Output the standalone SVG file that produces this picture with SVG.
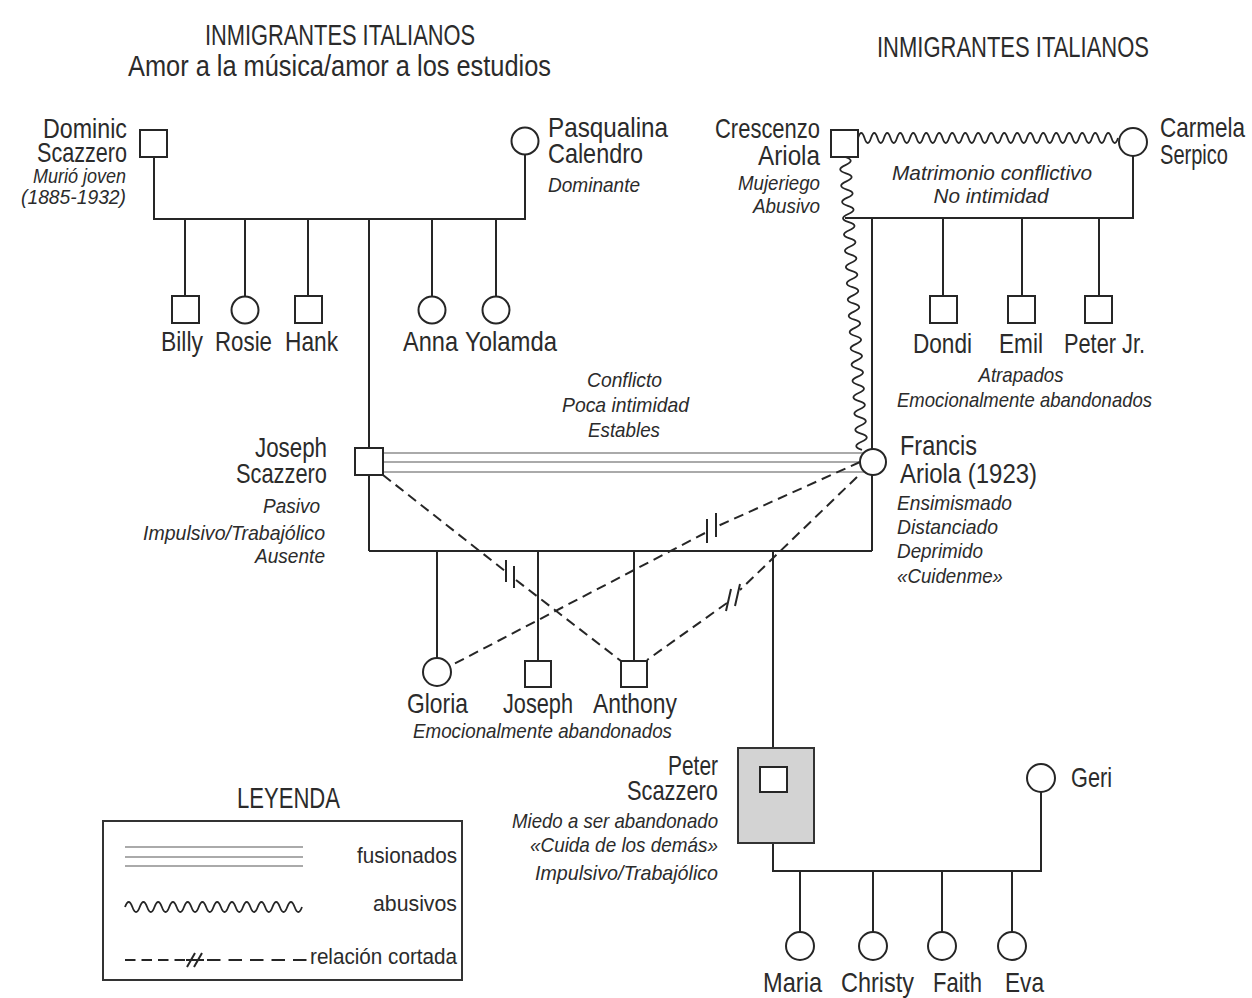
<svg xmlns="http://www.w3.org/2000/svg" width="1252" height="998" viewBox="0 0 1252 998">
<style>
text{font-family:"Liberation Sans Narrow","Liberation Sans",Arial,sans-serif;fill:#2b2b2b}
.t{font-size:30px}
.n{font-size:28px}
.i{font-size:21px;font-style:italic}
.l{font-size:22px}
.ln{stroke:#262626;stroke-width:2;fill:none}
.nd{stroke:#262626;stroke-width:2;fill:#fff}
.fz{stroke:#8e8e8e;stroke-width:1.6;fill:none}
.ds{stroke:#262626;stroke-width:2;fill:none;stroke-dasharray:10 6}
.wv{stroke:#262626;stroke-width:1.8;fill:none}
.mk{stroke:#262626;stroke-width:2;fill:none}
</style>
<rect width="1252" height="998" fill="#fff"/>

<g id="titles">
<text class="t" x="340" y="45" text-anchor="middle" textLength="270" lengthAdjust="spacingAndGlyphs">INMIGRANTES ITALIANOS</text>
<text class="t" x="339.5" y="76" text-anchor="middle" textLength="423" lengthAdjust="spacingAndGlyphs">Amor a la música/amor a los estudios</text>
<text class="t" x="1013" y="57" text-anchor="middle" textLength="272" lengthAdjust="spacingAndGlyphs">INMIGRANTES ITALIANOS</text>
</g>

<g id="connectors">
<path class="ln" d="M154,157 V219 H525 V155"/>
<path class="ln" d="M185,219 V297 M245,219 V297 M308,219 V297 M432,219 V297 M496,219 V297"/>
<path class="ln" d="M369,219 V551"/>
<path class="ln" d="M845,218 H1133 V156"/>
<path class="ln" d="M943,218 V297 M1022,218 V297 M1099,218 V297"/>
<path class="ln" d="M872,218 V551"/>
<path class="wv" d="M858,138 q3.25,-10 6.5,0 t6.5,0 t6.5,0 t6.5,0 t6.5,0 t6.5,0 t6.5,0 t6.5,0 t6.5,0 t6.5,0 t6.5,0 t6.5,0 t6.5,0 t6.5,0 t6.5,0 t6.5,0 t6.5,0 t6.5,0 t6.5,0 t6.5,0 t6.5,0 t6.5,0 t6.5,0 t6.5,0 t6.5,0 t6.5,0 t6.5,0 t6.5,0 t6.5,0 t6.5,0 t6.5,0 t6.5,0 t6.5,0 t6.5,0 t6.5,0 t6.5,0 t6.5,0 t6.5,0 t6.5,0 t6.5,0"/>
<path class="wv" transform="translate(845,157) rotate(86.68)" d="M0,0 q4.08,-11 8.15,0 t8.15,0 t8.15,0 t8.15,0 t8.15,0 t8.15,0 t8.15,0 t8.15,0 t8.15,0 t8.15,0 t8.15,0 t8.15,0 t8.15,0 t8.15,0 t8.15,0 t8.15,0 t8.15,0 t8.15,0 t8.15,0 t8.15,0 t8.15,0 t8.15,0 t8.15,0 t8.15,0 t8.15,0 t8.15,0 t8.15,0 t8.15,0 t8.15,0 t8.15,0 t8.15,0 t8.15,0 t8.15,0 t8.15,0 t8.15,0 t8.15,0"/>
<path class="fz" d="M384,453 H865 M384,462 H862 M384,472 H865"/>
<path class="ln" d="M369,551 H872"/>
<path class="ln" d="M437,551 V658 M538,551 V661 M634,551 V661 M773,551 V748"/>
<path class="ds" d="M383,475 L505,571 M516,580 L621,661"/>
<path class="mk" d="M506,560 V582 M514,566 V588"/>
<path class="ds" d="M860,462 L718,526 M705,533 L452,665"/>
<path class="mk" d="M707,519 V543 M716,513 V537"/>
<path class="ds" d="M857,477 L740,590 M727,603 L647,660"/>
<path class="mk" d="M726,611 L731,589 M735,606 L740,584"/>
<path class="ln" d="M773,843 V871 H1041 V792"/>
<path class="ln" d="M800,871 V932 M873,871 V932 M942,871 V932 M1012,871 V932"/>
</g>

<g id="dominic">
<rect class="nd" x="140" y="130" width="27" height="27"/>
<text class="n" x="127" y="138" text-anchor="end" textLength="84" lengthAdjust="spacingAndGlyphs">Dominic</text>
<text class="n" x="127" y="162" text-anchor="end" textLength="90" lengthAdjust="spacingAndGlyphs">Scazzero</text>
<text class="i" x="126" y="183" text-anchor="end" textLength="93" lengthAdjust="spacingAndGlyphs">Murió joven</text>
<text class="i" x="126" y="204" text-anchor="end" textLength="105" lengthAdjust="spacingAndGlyphs">(1885-1932)</text>
</g>
<g id="pasqualina">
<circle class="nd" cx="525" cy="141" r="13.5"/>
<text class="n" x="548" y="137" textLength="120" lengthAdjust="spacingAndGlyphs">Pasqualina</text>
<text class="n" x="548" y="163" textLength="95" lengthAdjust="spacingAndGlyphs">Calendro</text>
<text class="i" x="548" y="192" textLength="92" lengthAdjust="spacingAndGlyphs">Dominante</text>
</g>
<g id="billy"><rect class="nd" x="172" y="296" width="27" height="27"/><text class="n" x="161" y="351" textLength="42" lengthAdjust="spacingAndGlyphs">Billy</text></g>
<g id="rosie"><circle class="nd" cx="245" cy="310" r="13.5"/><text class="n" x="215" y="351" textLength="57" lengthAdjust="spacingAndGlyphs">Rosie</text></g>
<g id="hank"><rect class="nd" x="295" y="296" width="27" height="27"/><text class="n" x="285" y="351" textLength="53" lengthAdjust="spacingAndGlyphs">Hank</text></g>
<g id="anna"><circle class="nd" cx="432" cy="310" r="13.5"/><text class="n" x="403" y="351" textLength="55" lengthAdjust="spacingAndGlyphs">Anna</text></g>
<g id="yolamda"><circle class="nd" cx="496" cy="310" r="13.5"/><text class="n" x="465" y="351" textLength="92" lengthAdjust="spacingAndGlyphs">Yolamda</text></g>

<g id="crescenzo">
<rect class="nd" x="831" y="130" width="27" height="27"/>
<text class="n" x="820" y="138" text-anchor="end" textLength="105" lengthAdjust="spacingAndGlyphs">Crescenzo</text>
<text class="n" x="820" y="165" text-anchor="end" textLength="62" lengthAdjust="spacingAndGlyphs">Ariola</text>
<text class="i" x="820" y="190" text-anchor="end" textLength="82" lengthAdjust="spacingAndGlyphs">Mujeriego</text>
<text class="i" x="820" y="213" text-anchor="end" textLength="67" lengthAdjust="spacingAndGlyphs">Abusivo</text>
</g>
<g id="carmela">
<circle class="nd" cx="1133" cy="142" r="14"/>
<text class="n" x="1160" y="137" textLength="85" lengthAdjust="spacingAndGlyphs">Carmela</text>
<text class="n" x="1160" y="164" textLength="68" lengthAdjust="spacingAndGlyphs">Serpico</text>
</g>
<g id="matrimonio">
<text class="i" x="992" y="180" text-anchor="middle" textLength="200" lengthAdjust="spacingAndGlyphs">Matrimonio conflictivo</text>
<text class="i" x="991" y="203" text-anchor="middle" textLength="115" lengthAdjust="spacingAndGlyphs">No intimidad</text>
</g>
<g id="dondi"><rect class="nd" x="930" y="296" width="27" height="27"/><text class="n" x="913" y="353" textLength="59" lengthAdjust="spacingAndGlyphs">Dondi</text></g>
<g id="emil"><rect class="nd" x="1008" y="296" width="27" height="27"/><text class="n" x="999" y="353" textLength="44" lengthAdjust="spacingAndGlyphs">Emil</text></g>
<g id="peterjr"><rect class="nd" x="1085" y="296" width="27" height="27"/><text class="n" x="1064" y="353" textLength="81" lengthAdjust="spacingAndGlyphs">Peter Jr.</text></g>
<g id="ariola-kids-note">
<text class="i" x="1021" y="382" text-anchor="middle" textLength="85" lengthAdjust="spacingAndGlyphs">Atrapados</text>
<text class="i" x="1024.5" y="407" text-anchor="middle" textLength="255" lengthAdjust="spacingAndGlyphs">Emocionalmente abandonados</text>
</g>

<g id="couple-note">
<text class="i" x="624.5" y="387" text-anchor="middle" textLength="75" lengthAdjust="spacingAndGlyphs">Conflicto</text>
<text class="i" x="625.5" y="412" text-anchor="middle" textLength="127" lengthAdjust="spacingAndGlyphs">Poca intimidad</text>
<text class="i" x="624" y="437" text-anchor="middle" textLength="72" lengthAdjust="spacingAndGlyphs">Estables</text>
</g>
<g id="joseph">
<rect class="nd" x="355" y="448" width="28" height="27"/>
<text class="n" x="327" y="457" text-anchor="end" textLength="72" lengthAdjust="spacingAndGlyphs">Joseph</text>
<text class="n" x="327" y="483" text-anchor="end" textLength="91" lengthAdjust="spacingAndGlyphs">Scazzero</text>
<text class="i" x="320" y="513" text-anchor="end" textLength="57" lengthAdjust="spacingAndGlyphs">Pasivo</text>
<text class="i" x="325" y="540" text-anchor="end" textLength="182" lengthAdjust="spacingAndGlyphs">Impulsivo/Trabajólico</text>
<text class="i" x="325" y="563" text-anchor="end" textLength="70" lengthAdjust="spacingAndGlyphs">Ausente</text>
</g>
<g id="francis">
<circle class="nd" cx="873" cy="462" r="13"/>
<text class="n" x="900" y="455" textLength="77" lengthAdjust="spacingAndGlyphs">Francis</text>
<text class="n" x="900" y="483" textLength="137" lengthAdjust="spacingAndGlyphs">Ariola (1923)</text>
<text class="i" x="897" y="510" textLength="115" lengthAdjust="spacingAndGlyphs">Ensimismado</text>
<text class="i" x="897" y="534" textLength="101" lengthAdjust="spacingAndGlyphs">Distanciado</text>
<text class="i" x="897" y="558" textLength="86" lengthAdjust="spacingAndGlyphs">Deprimido</text>
<text class="i" x="897" y="583" textLength="106" lengthAdjust="spacingAndGlyphs">«Cuidenme»</text>
</g>
<g id="gloria"><circle class="nd" cx="437" cy="672" r="14"/><text class="n" x="407" y="713" textLength="61" lengthAdjust="spacingAndGlyphs">Gloria</text></g>
<g id="joseph-jr"><rect class="nd" x="525" y="661" width="26" height="26"/><text class="n" x="503" y="713" textLength="70" lengthAdjust="spacingAndGlyphs">Joseph</text></g>
<g id="anthony"><rect class="nd" x="621" y="661" width="26" height="26"/><text class="n" x="593" y="713" textLength="84" lengthAdjust="spacingAndGlyphs">Anthony</text></g>
<g id="scazzero-kids-note"><text class="i" x="542.5" y="738" text-anchor="middle" textLength="259" lengthAdjust="spacingAndGlyphs">Emocionalmente abandonados</text></g>

<g id="peter">
<rect x="738" y="748" width="76" height="95" fill="#d3d3d3" stroke="#333" stroke-width="2"/>
<rect class="nd" x="760" y="767" width="27" height="25"/>
<text class="n" x="718" y="775" text-anchor="end" textLength="50" lengthAdjust="spacingAndGlyphs">Peter</text>
<text class="n" x="718" y="800" text-anchor="end" textLength="91" lengthAdjust="spacingAndGlyphs">Scazzero</text>
<text class="i" x="718" y="828" text-anchor="end" textLength="206" lengthAdjust="spacingAndGlyphs">Miedo a ser abandonado</text>
<text class="i" x="718" y="852" text-anchor="end" textLength="188" lengthAdjust="spacingAndGlyphs">«Cuida de los demás»</text>
<text class="i" x="718" y="880" text-anchor="end" textLength="183" lengthAdjust="spacingAndGlyphs">Impulsivo/Trabajólico</text>
</g>
<g id="geri"><circle class="nd" cx="1041" cy="778" r="14"/><text class="n" x="1071" y="787" textLength="41" lengthAdjust="spacingAndGlyphs">Geri</text></g>
<g id="maria"><circle class="nd" cx="800" cy="946" r="14"/><text class="n" x="763" y="992" textLength="59" lengthAdjust="spacingAndGlyphs">Maria</text></g>
<g id="christy"><circle class="nd" cx="873" cy="946" r="14"/><text class="n" x="841" y="992" textLength="73" lengthAdjust="spacingAndGlyphs">Christy</text></g>
<g id="faith"><circle class="nd" cx="942" cy="946" r="14"/><text class="n" x="933" y="992" textLength="49" lengthAdjust="spacingAndGlyphs">Faith</text></g>
<g id="eva"><circle class="nd" cx="1012" cy="946" r="14"/><text class="n" x="1005" y="992" textLength="39" lengthAdjust="spacingAndGlyphs">Eva</text></g>

<g id="legend">
<text class="t" x="288.5" y="808" text-anchor="middle" textLength="103" lengthAdjust="spacingAndGlyphs">LEYENDA</text>
<rect x="103" y="821" width="359" height="159" fill="none" stroke="#333" stroke-width="2"/>
<path class="fz" d="M125,847 H303 M125,857 H303 M125,866 H303"/>
<text class="l" x="457" y="863" text-anchor="end" textLength="100" lengthAdjust="spacingAndGlyphs">fusionados</text>
<path class="wv" d="M125,907 q3.69,-10 7.375,0 t7.375,0 t7.375,0 t7.375,0 t7.375,0 t7.375,0 t7.375,0 t7.375,0 t7.375,0 t7.375,0 t7.375,0 t7.375,0 t7.375,0 t7.375,0 t7.375,0 t7.375,0 t7.375,0 t7.375,0 t7.375,0 t7.375,0 t7.375,0 t7.375,0 t7.375,0 t7.375,0"/>
<text class="l" x="457" y="911" text-anchor="end" textLength="84" lengthAdjust="spacingAndGlyphs">abusivos</text>
<path class="ln" d="M125,960 h10.5 m6,0 h10.5 m6,0 h10.5 m6,0 h10.5 M186,960 h18 M207,960 h13.5 m8,0 h13.5 m8,0 h13.5 m8,0 h13.5 m8,0 h13.5"/>
<path class="mk" d="M187,967 L195,953 M194,967 L202,953"/>
<text class="l" x="457" y="964" text-anchor="end" textLength="147" lengthAdjust="spacingAndGlyphs">relación cortada</text>
</g>
</svg>
